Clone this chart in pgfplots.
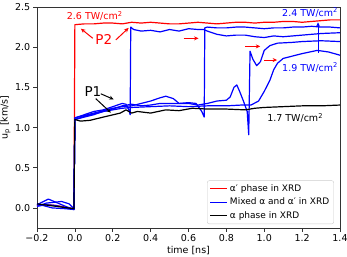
\documentclass[border=0pt]{standalone}
\usepackage{pgfplots}
\pgfplotsset{compat=1.18}
\usepackage{fontspec}
\setmainfont{DejaVu Sans}
\usetikzlibrary{arrows.meta}
\begin{document}
\fontsize{9.5bp}{11bp}\selectfont
\begin{tikzpicture}
\begin{axis}[
 at={(0,0)}, anchor=south west,
 scale only axis, width=303bp, height=221bp,
 xmin=-0.2, xmax=1.4, ymin=-0.25, ymax=2.5,
 xtick={-0.2,0,0.2,0.4,0.6,0.8,1.0,1.2,1.4},
 xticklabels={−0.2,0.0,0.2,0.4,0.6,0.8,1.0,1.2,1.4},
 ytick={0,0.5,1,1.5,2,2.5},
 yticklabels={0.0,0.5,1.0,1.5,2.0,2.5},
 tick align=outside, tick pos=left, major tick length=3.5bp,
 tick style={black!80, line width=0.6bp},
 axis line style={black!80, line width=0.6bp},
 xlabel={time [ns]}, ylabel={u\textsubscript{p} [km/s]},
 xlabel style={yshift=2bp},
 ylabel style={yshift=-2bp},
 ticklabel style={font=\fontsize{9.5bp}{11bp}\selectfont},
 label style={font=\fontsize{9.5bp}{11bp}\selectfont},
 every axis plot/.append style={line width=1.2bp, line join=round},
 legend style={at={(0.98,0.018)}, anchor=south east, draw=black!20, rounded corners=2pt,
   font=\fontsize{9bp}{10bp}\selectfont, row sep=1.2bp, inner xsep=2.5bp, inner ysep=2bp},
 legend cell align=left,
]
\addlegendimage{red, line width=1.2bp}
\addlegendentry{α′ phase in XRD}
\addlegendimage{blue, line width=1.2bp}
\addlegendentry{Mixed α and α′ in XRD}
\addlegendimage{black, line width=1.2bp}
\addlegendentry{α phase in XRD}
% red: alpha' phase
\addplot[red, forget plot] coordinates {(-0.2,0.03)(-0.15,0.04)(-0.1,0.03)(-0.05,0.01)(-0.005,-0.01)(0,2.28)(0.05,2.29)(0.1,2.29)(0.15,2.30)(0.2,2.30)(0.25,2.29)(0.3,2.31)(0.35,2.30)(0.4,2.31)(0.45,2.30)(0.5,2.29)(0.55,2.29)(0.6,2.30)(0.65,2.31)(0.7,2.30)(0.75,2.29)(0.8,2.30)(0.85,2.31)(0.9,2.31)(0.95,2.30)(1.0,2.31)(1.05,2.31)(1.1,2.32)(1.15,2.32)(1.2,2.31)(1.25,2.32)(1.3,2.33)(1.35,2.34)(1.4,2.34)};
% blue B
\addplot[blue, forget plot] coordinates {(-0.2,0.04)(-0.14,0.11)(-0.1,0.07)(-0.05,0.02)(-0.005,-0.02)(0,1.1)(0.05,1.14)(0.1,1.17)(0.15,1.2)(0.2,1.23)(0.25,1.27)(0.3,1.29)(0.35,1.27)(0.4,1.28)(0.45,1.3)(0.5,1.3)(0.55,1.3)(0.6,1.31)(0.64,1.3)(0.67,1.2)(0.683,1.13)(0.686,2.24)(0.7,2.25)(0.75,2.24)(0.8,2.24)(0.85,2.25)(0.9,2.25)(0.95,2.24)(1.0,2.23)(1.05,2.24)(1.1,2.24)(1.15,2.25)(1.2,2.25)(1.25,2.26)(1.3,2.25)(1.35,2.25)(1.4,2.24)};
% blue A
\addplot[blue, forget plot] coordinates {(-0.2,0.02)(-0.15,0.04)(-0.1,0.03)(-0.05,0.0)(-0.005,-0.02)(0,1.12)(0.05,1.16)(0.1,1.2)(0.15,1.22)(0.2,1.26)(0.25,1.3)(0.27,1.29)(0.285,1.22)(0.292,1.16)(0.295,2.25)(0.31,2.22)(0.35,2.2)(0.4,2.21)(0.45,2.19)(0.5,2.22)(0.55,2.2)(0.6,2.23)(0.65,2.22)(0.68,2.22)(0.7,2.2)(0.75,2.16)(0.8,2.14)(0.85,2.15)(0.9,2.15)(0.95,2.13)(1.0,2.12)(1.05,2.14)(1.1,2.13)(1.15,2.14)(1.2,2.15)(1.3,2.17)(1.4,2.18)};
% blue C
\addplot[blue, forget plot] coordinates {(-0.2,0.02)(-0.15,0.06)(-0.07,0.08)(-0.03,0.05)(-0.005,-0.01)(0,1.12)(0.05,1.15)(0.1,1.18)(0.2,1.24)(0.25,1.26)(0.3,1.27)(0.35,1.3)(0.4,1.33)(0.45,1.37)(0.48,1.39)(0.52,1.36)(0.55,1.3)(0.6,1.3)(0.65,1.28)(0.7,1.3)(0.75,1.33)(0.8,1.34)(0.82,1.38)(0.84,1.5)(0.855,1.53)(0.87,1.45)(0.89,1.33)(0.91,1.2)(0.918,0.91)(0.925,1.95)(0.94,1.85)(0.96,1.77)(0.98,1.82)(1.0,1.96)(1.03,2.02)(1.07,2.05)(1.15,2.06)(1.2,2.07)(1.3,2.08)(1.4,2.07)};
% blue D
\addplot[blue, forget plot] coordinates {(-0.2,0.05)(-0.12,0.0)(-0.05,-0.01)(-0.005,-0.02)(0,1.1)(0.05,1.13)(0.1,1.16)(0.15,1.2)(0.2,1.22)(0.25,1.24)(0.3,1.25)(0.4,1.26)(0.5,1.27)(0.6,1.26)(0.7,1.27)(0.8,1.27)(0.88,1.28)(0.93,1.28)(0.97,1.33)(1.0,1.45)(1.03,1.59)(1.05,1.72)(1.07,1.8)(1.1,1.86)(1.15,1.89)(1.2,1.92)(1.28,1.96)(1.34,1.94)(1.4,1.9)};
% black: alpha phase
\addplot[black, forget plot] coordinates {(-0.2,0.05)(-0.1,0.02)(-0.005,-0.01)(0,1.1)(0.03,1.08)(0.08,1.09)(0.15,1.13)(0.24,1.18)(0.27,1.22)(0.3,1.18)(0.33,1.2)(0.4,1.18)(0.48,1.22)(0.55,1.21)(0.62,1.24)(0.7,1.23)(0.8,1.23)(0.9,1.22)(0.95,1.24)(1.0,1.25)(1.1,1.26)(1.2,1.27)(1.3,1.27)(1.4,1.28)};
% annotations
\node[red, font=\fontsize{9.5bp}{11bp}\selectfont] at (axis cs:0.105,2.39) {2.6 TW/cm\textsuperscript{2}};
\node[blue, font=\fontsize{9.5bp}{11bp}\selectfont] at (axis cs:1.242,2.43) {2.4 TW/cm\textsuperscript{2}};
\node[blue, font=\fontsize{9.5bp}{11bp}\selectfont] at (axis cs:1.242,1.75) {1.9 TW/cm\textsuperscript{2}};
\node[black, font=\fontsize{9.5bp}{11bp}\selectfont] at (axis cs:1.163,1.12) {1.7 TW/cm\textsuperscript{2}};
\node[red, font=\fontsize{13.5bp}{15bp}\selectfont] at (axis cs:0.153,2.09) {P2};
\node[black, font=\fontsize{13.5bp}{15bp}\selectfont] at (axis cs:0.095,1.45) {P1};
\begin{scope}[-{Stealth[length=4.5bp,width=4bp]}, line width=1bp]
\draw[red] (axis cs:0.095,2.11) -- (axis cs:0.032,2.23);
\draw[red] (axis cs:0.216,2.09) -- (axis cs:0.284,2.24);
\draw[red] (axis cs:0.574,2.11) -- (axis cs:0.653,2.11);
\draw[red] (axis cs:0.90,2.01) -- (axis cs:0.979,2.01);
\draw[red] (axis cs:1.0,1.84) -- (axis cs:1.068,1.84);
\draw[black] (axis cs:0.137,1.42) -- (axis cs:0.205,1.35);
\draw[black] (axis cs:0.11,1.36) -- (axis cs:0.19,1.185);
\draw[blue] (axis cs:1.284,1.93) -- (axis cs:1.284,2.31);
\end{scope}
\end{axis}
\pgfresetboundingbox
\useasboundingbox (-37bp,-29bp) rectangle (310bp,228bp);
\end{tikzpicture}
\end{document}
